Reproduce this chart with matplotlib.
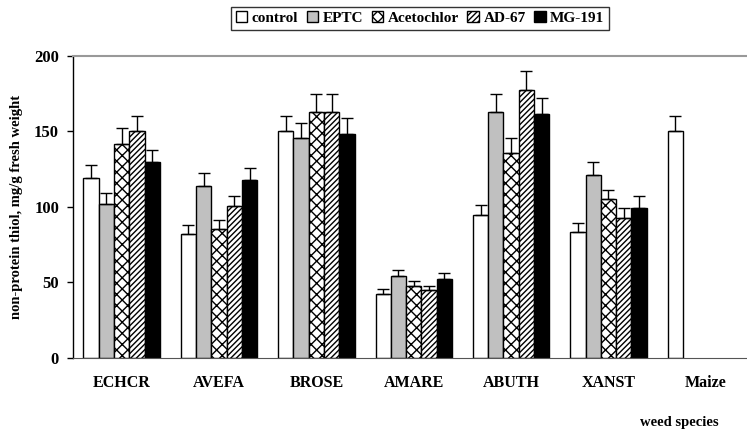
import numpy as np
import matplotlib
matplotlib.use("Agg")
import matplotlib.pyplot as plt

plt.rcParams['font.family'] = ['Liberation Serif', 'DejaVu Serif']
plt.rcParams['hatch.linewidth'] = 1.0

# ── data ─────────────────────────────────────────────────────────────
species = ["ECHCR", "AVEFA", "BROSE", "AMARE", "ABUTH", "XANST", "Maize"]
treatments = ["control", "EPTC", "Acetochlor", "AD-67", "MG-191"]

control    = [119, 82, 150, 42.5, 94.5, 83.5, 150]
eptc       = [102, 114, 146, 54, 163, 121, np.nan]
acetochlor = [142, 85.5, 163, 47.5, 136, 105, np.nan]
ad67       = [150, 100.5, 163, 45, 177.5, 92.5, np.nan]
mg191      = [130, 118, 148.5, 52, 161.5, 99, np.nan]

control_err    = [8.5, 6, 10.5, 3, 6.5, 6, 10.5]
eptc_err       = [7, 8.5, 9.5, 4, 11.5, 8.5, np.nan]
acetochlor_err = [10, 6, 11.5, 3.5, 9.5, 6.5, np.nan]
ad67_err       = [10.5, 7, 11.5, 2.5, 12.5, 7, np.nan]
mg191_err      = [8, 8, 10.5, 4, 11, 8, np.nan]

values = [control, eptc, acetochlor, ad67, mg191]
errors = [control_err, eptc_err, acetochlor_err, ad67_err, mg191_err]

# ── style ────────────────────────────────────────────────────────────
faces   = ["white", "#c0c0c0", "white", "white", "black"]
hatches = [None, None, "xxx", "//////", None]

fig = plt.figure(figsize=(7.47, 4.36), dpi=100)
ax = fig.add_axes([0.0977, 0.179, 0.9996 - 0.0977, 0.8716 - 0.179])

x = np.arange(len(species))
w = 0.157
for i, (vals, errs) in enumerate(zip(values, errors)):
    pos = x - 2 * w + i * w
    vals = np.array(vals, dtype=float)
    errs = np.array(errs, dtype=float)
    ok = ~np.isnan(vals)
    ax.bar(pos[ok], vals[ok], width=w, color=faces[i], edgecolor="black",
           linewidth=1.0, hatch=hatches[i], label=treatments[i], zorder=2)
    ax.errorbar(pos[ok], vals[ok], yerr=[np.zeros(ok.sum()), errs[ok]],
                fmt="none", ecolor="black", elinewidth=1.0, capsize=4,
                capthick=1.0, zorder=3)

ax.set_xlim(-0.5, 6.42)
ax.set_ylim(0, 200)
ax.set_yticks([0, 50, 100, 150, 200])
ax.set_xticks(x)
ax.set_xticklabels(species, fontweight="bold", fontsize=11.5)
for t in ax.get_yticklabels():
    t.set_fontweight("bold")
    t.set_fontsize(12)
ax.tick_params(axis="y", direction="out", length=4, width=1, pad=6)
ax.tick_params(axis="x", length=0, pad=12)

ax.spines["right"].set_visible(False)
ax.spines["top"].set_color("#999999")
ax.spines["top"].set_linewidth(1.5)
ax.spines["left"].set_linewidth(1.0)
ax.spines["bottom"].set_color("#555555")

ax.set_ylabel("non-protein thiol, mg/g fresh weight", fontweight="bold",
              fontsize=10.5, labelpad=8)
fig.text(0.91, 0.032, "weed species", fontweight="bold", fontsize=10.5,
         ha="center", va="center")

leg = fig.legend(loc="upper center", bbox_to_anchor=(0.5625, 0.992), ncol=5,
                 frameon=True, fancybox=False, edgecolor="black",
                 prop={"weight": "bold", "size": 11}, handlelength=0.75,
                 handleheight=0.75, handletextpad=0.3, columnspacing=0.55,
                 borderpad=0.3, borderaxespad=0.2)
leg.get_frame().set_linewidth(1.0)

fig.savefig("out.png", dpi=100)
